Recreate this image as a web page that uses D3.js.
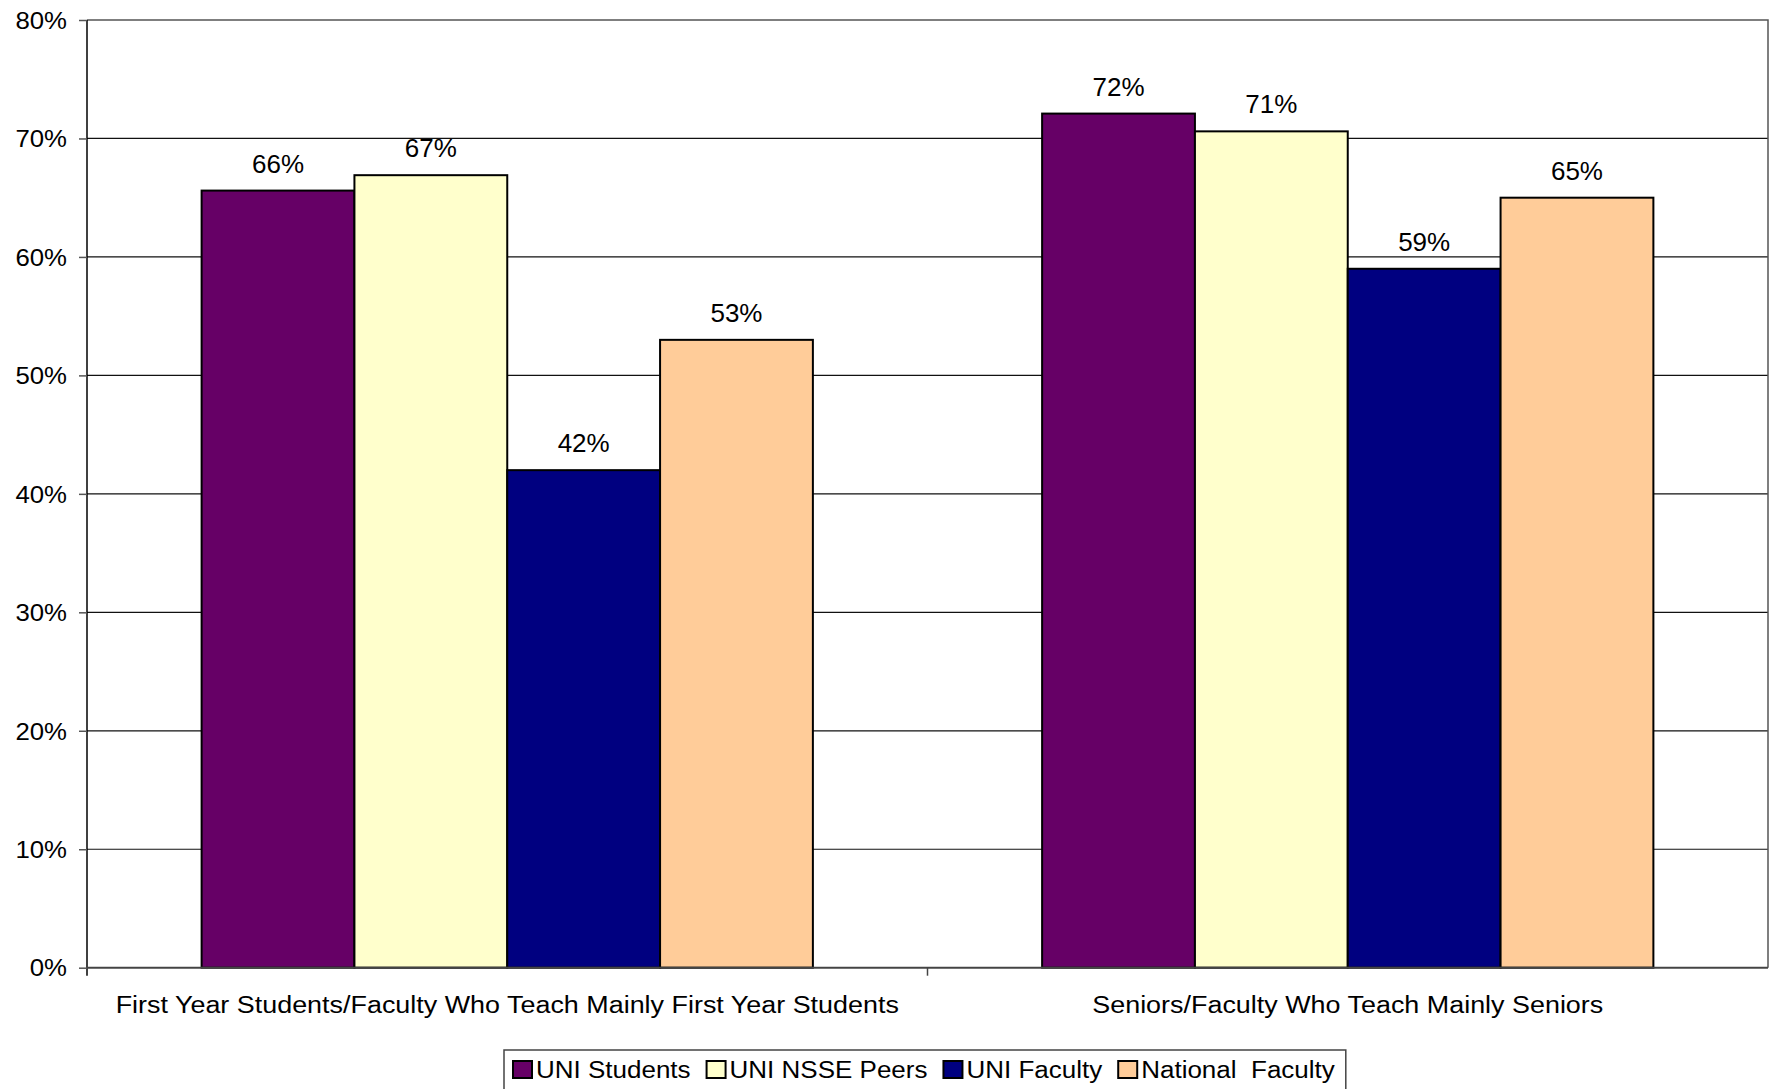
<!DOCTYPE html>
<html>
<head>
<meta charset="utf-8">
<script src="https://cdn.jsdelivr.net/npm/d3@7"></script>
<style>
  html, body { margin: 0; padding: 0; background: #fff; }
  svg { display: block; }
  text { font-family: "Liberation Sans", Arial, sans-serif; fill: #000; }
</style>
</head>
<body>
<svg id="chart" width="1769" height="1089"></svg>
<script>
const categories = [
  "First Year Students/Faculty Who Teach Mainly First Year Students",
  "Seniors/Faculty Who Teach Mainly Seniors"
];
const seriesNames = ["UNI Students", "UNI NSSE Peers", "UNI Faculty", "National  Faculty"];
const seriesColors = ["#660066", "#FFFFCC", "#000080", "#FFCC99"];
const uniStudents = [0.656, 0.721];
const uniNssePeers = [0.669, 0.706];
const uniFaculty = [0.42, 0.59];
const nationalFaculty = [0.53, 0.65];
const valueLabels = [["66%", "72%"], ["67%", "71%"], ["42%", "59%"], ["53%", "65%"]];
const yTicks = [0, 0.1, 0.2, 0.3, 0.4, 0.5, 0.6, 0.7, 0.8];
const seriesValues = [uniStudents, uniNssePeers, uniFaculty, nationalFaculty];

(function () {
const svg = d3.select("#chart");
const pLeft = 87, pRight = 1768, pTop = 20, pBottom = 967.7;

function stretch(sel, f) {
  sel.each(function () {
    const w = this.getComputedTextLength();
    d3.select(this).attr("textLength", w * f).attr("lengthAdjust", "spacingAndGlyphs");
  });
}

const x0 = d3.scaleBand().domain(categories).range([pLeft, pRight]).padding(0);
const step = x0.bandwidth();
const barW = step / 5.5;
const x1 = d3.scaleBand().domain(seriesNames).range([0.75 * barW, 4.75 * barW]).padding(0);
const y = d3.scaleLinear().domain([0, 0.8]).range([pBottom, pTop]);

// gridlines
svg.append("g").selectAll("line").data(yTicks.filter(t => t > 0 && t < 0.8)).join("line")
  .attr("x1", pLeft).attr("x2", pRight)
  .attr("y1", d => y(d)).attr("y2", d => y(d))
  .attr("stroke", "#111").attr("stroke-width", 1.2);

// plot border top/right
svg.append("path")
  .attr("d", `M${pLeft},${y(0.8)}H${pRight}V${pBottom}`)
  .attr("fill", "none").attr("stroke", "#555").attr("stroke-width", 1.5);

// y axis
const yAxis = d3.axisLeft(y).tickValues(yTicks).tickSize(8).tickFormat(d3.format(".0%"));
const gy = svg.append("g").attr("transform", `translate(${pLeft},0)`).call(yAxis);
gy.select(".domain").attr("stroke", "#000").attr("stroke-width", 1.5)
  .attr("d", `M0,${y(0.8)}V${pBottom + 8}`);
gy.selectAll(".tick line").attr("stroke", "#555").attr("stroke-width", 1.5);
const yLabels = gy.selectAll(".tick text").attr("x", -20).attr("dy", "0.36em")
  .style("font-size", "23px").style("font-family", "'Liberation Sans', Arial, sans-serif").attr("fill", "#000");
stretch(yLabels, 1.12);

// bars
const groups = svg.append("g").selectAll("g").data(seriesNames).join("g");
groups.each(function(name, si) {
  d3.select(this).selectAll("rect").data(categories).join("rect")
    .attr("x", c => x0(c) + x1(name))
    .attr("y", (c, ci) => y(seriesValues[si][ci]))
    .attr("width", x1.bandwidth())
    .attr("height", (c, ci) => y(0) - y(seriesValues[si][ci]))
    .attr("fill", seriesColors[si])
    .attr("stroke", "#000").attr("stroke-width", 2);
  d3.select(this).selectAll("text").data(categories).join("text")
    .attr("x", c => x0(c) + x1(name) + x1.bandwidth() / 2)
    .attr("y", (c, ci) => y(seriesValues[si][ci]) - 18)
    .attr("text-anchor", "middle")
    .style("font-size", "26px")
    .text((c, ci) => valueLabels[si][ci]);
});

// x axis
const xAxis = d3.axisBottom(x0).tickSize(0).tickSizeOuter(0);
const gx = svg.append("g").attr("transform", `translate(0,${pBottom})`).call(xAxis);
gx.select(".domain").attr("stroke", "#444").attr("stroke-width", 2).attr("d", `M${pLeft},0H${pRight}`);
const xLabels = gx.selectAll(".tick text").attr("y", 45).attr("dy", 0)
  .style("font-size", "23.5px").style("font-family", "'Liberation Sans', Arial, sans-serif").attr("fill", "#000");
stretch(xLabels, 1.145);
// category boundary ticks
svg.append("g").selectAll("line").data(categories.slice(1)).join("line")
  .attr("x1", c => x0(c)).attr("x2", c => x0(c))
  .attr("y1", pBottom).attr("y2", pBottom + 8)
  .attr("stroke", "#444").attr("stroke-width", 1.5);

// legend
const lg = svg.append("g");
const legendBox = lg.append("rect").attr("x", 504).attr("y", 1050).attr("width", 845).attr("height", 60)
  .attr("fill", "#fff").attr("stroke", "#444").attr("stroke-width", 1.5);
let lx = 513;
seriesNames.forEach((name, i) => {
  lg.append("rect").attr("x", lx).attr("y", 1061).attr("width", 19).attr("height", 17)
    .attr("fill", seriesColors[i]).attr("stroke", "#000").attr("stroke-width", 2);
  const t = lg.append("text").attr("x", lx + 23).attr("y", 1078)
    .style("font-size", "23px").style("white-space", "pre").attr("xml:space", "preserve").text(name);
  const w = t.node().getComputedTextLength() * 1.13;
  t.attr("textLength", w).attr("lengthAdjust", "spacingAndGlyphs");
  lx += 23 + w + 16;
});
legendBox.attr("width", lx - 504 - 5);
})();
</script>
</body>
</html>
